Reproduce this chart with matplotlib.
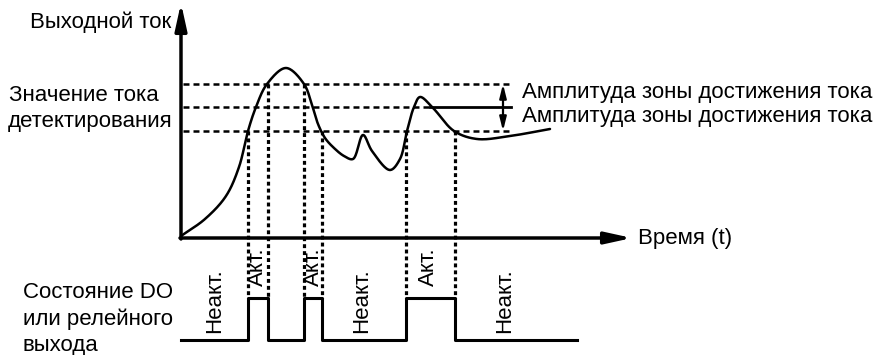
import matplotlib
matplotlib.use("Agg")
import matplotlib.pyplot as plt
import numpy as np

plt.rcParams['font.family'] = ['Liberation Sans', 'DejaVu Sans']
plt.rcParams['lines.scale_dashes'] = False

# the drawing is laid out in pixel units of the 882x355 picture (y grows downward)
curve_x = [181, 205, 226, 239, 248, 256, 267, 286, 304, 312, 318, 325, 334,
           344, 353, 363, 372, 390, 400, 407, 414, 420, 433, 454, 477, 510, 550]
curve_y = [236, 219, 196, 167, 131, 107, 84, 68, 84, 105, 124, 138, 148,
           156, 159, 135, 151, 170, 159, 131, 107, 97, 108, 131, 139, 136, 129]

levels = [84, 107, 131]          # upper / detection / lower current levels
switch_x = [248, 268, 304, 322, 406, 455]
switch_top = [131, 84, 84, 131, 131, 131]

state_x = [181, 248, 248, 268, 268, 304, 304, 322, 322, 406, 406, 455, 455, 577]
state_v = [0, 0, 1, 1, 0, 0, 1, 1, 0, 0, 1, 1, 0, 0]
low_y, high_y = 340, 298

state_labels = ['Неакт.', 'Акт.', 'Акт.', 'Неакт.', 'Акт.', 'Неакт.']
state_label_x = [215, 257, 313, 362, 428, 505]


def smooth_path(xs, ys, n=30, alpha=0.5):
    # centripetal Catmull-Rom through the read points
    p = np.column_stack([xs, ys]).astype(float)
    p = np.vstack([2 * p[0] - p[1], p, 2 * p[-1] - p[-2]])
    out = []
    for i in range(1, len(p) - 2):
        p0, p1, p2, p3 = p[i - 1], p[i], p[i + 1], p[i + 2]
        t0 = 0.0
        t1 = t0 + np.linalg.norm(p1 - p0) ** alpha
        t2 = t1 + np.linalg.norm(p2 - p1) ** alpha
        t3 = t2 + np.linalg.norm(p3 - p2) ** alpha
        t = np.linspace(t1, t2, n, endpoint=False)[:, None]
        a1 = (t1 - t) / (t1 - t0) * p0 + (t - t0) / (t1 - t0) * p1
        a2 = (t2 - t) / (t2 - t1) * p1 + (t - t1) / (t2 - t1) * p2
        a3 = (t3 - t) / (t3 - t2) * p2 + (t - t2) / (t3 - t2) * p3
        b1 = (t2 - t) / (t2 - t0) * a1 + (t - t0) / (t2 - t0) * a2
        b2 = (t3 - t) / (t3 - t1) * a2 + (t - t1) / (t3 - t1) * a3
        out.append((t2 - t) / (t2 - t1) * b1 + (t - t1) / (t2 - t1) * b2)
    out.append(p[-2][None, :])
    return np.vstack(out)


fig = plt.figure(figsize=(8.82, 3.55), dpi=100)
ax = fig.add_axes([0, 0, 1, 1])
ax.set_xlim(0, 882)
ax.set_ylim(355, 0)
ax.axis('off')

fs = 16

# axes with arrows
arrow = dict(arrowstyle='-|>,head_length=1.0,head_width=0.22', lw=2.5,
             color='black', mutation_scale=16, shrinkA=0, shrinkB=0)
ax.annotate('', xy=(181, 3), xytext=(181, 239), arrowprops=arrow)
ax.annotate('', xy=(632, 238), xytext=(180, 238), arrowprops=arrow)

# threshold lines
dash = (0, (4.3, 2.9))
ax.plot([183, 510], [levels[0]] * 2, color='black', lw=1.8, linestyle=dash)
ax.plot([183, 430], [levels[1]] * 2, color='black', lw=1.8, linestyle=dash)
ax.plot([430, 511], [levels[1]] * 2, color='black', lw=2.0)
ax.plot([183, 510], [levels[2]] * 2, color='black', lw=1.8, linestyle=dash)

# amplitude arrow
ax.annotate('', xy=(503, levels[0]), xytext=(503, levels[2]),
            arrowprops=dict(arrowstyle='<|-|>,head_length=0.8,head_width=0.2',
                            lw=1.6, color='black', mutation_scale=10,
                            shrinkA=0, shrinkB=0))

# switching instants
for sx, st in zip(switch_x, switch_top):
    ax.plot([sx, sx], [st, high_y], color='black', lw=2.3,
            linestyle=(0, (2.8, 2.2)))

# output current curve
pts = smooth_path(curve_x, curve_y)
ax.plot(pts[:, 0], pts[:, 1], color='black', lw=1.8, solid_capstyle='round')

# DO state
sy = [low_y if v == 0 else high_y for v in state_v]
ax.plot(state_x, sy, color='black', lw=2.2)

for lab, lx in zip(state_labels, state_label_x):
    cy = 301 if lab.startswith('Н') else 267
    ax.text(lx, cy, lab, rotation=90, ha='center', va='center', fontsize=fs)

# texts
ax.text(30, 28, 'Выходной ток', fontsize=fs, va='baseline')
ax.text(9, 101, 'Значение тока', fontsize=fs, va='baseline')
ax.text(8, 127, 'детектирования', fontsize=fs, va='baseline')
ax.text(522, 98, 'Амплитуда зоны достижения тока', fontsize=fs, va='baseline')
ax.text(522, 122, 'Амплитуда зоны достижения тока', fontsize=fs, va='baseline')
ax.text(638, 244, 'Время (t)', fontsize=fs, va='baseline')
ax.text(23, 298, 'Состояние DO', fontsize=fs, va='baseline')
ax.text(23, 325, 'или релейного', fontsize=fs, va='baseline')
ax.text(23, 351, 'выхода', fontsize=fs, va='baseline')

fig.savefig('out.png', dpi=100)
